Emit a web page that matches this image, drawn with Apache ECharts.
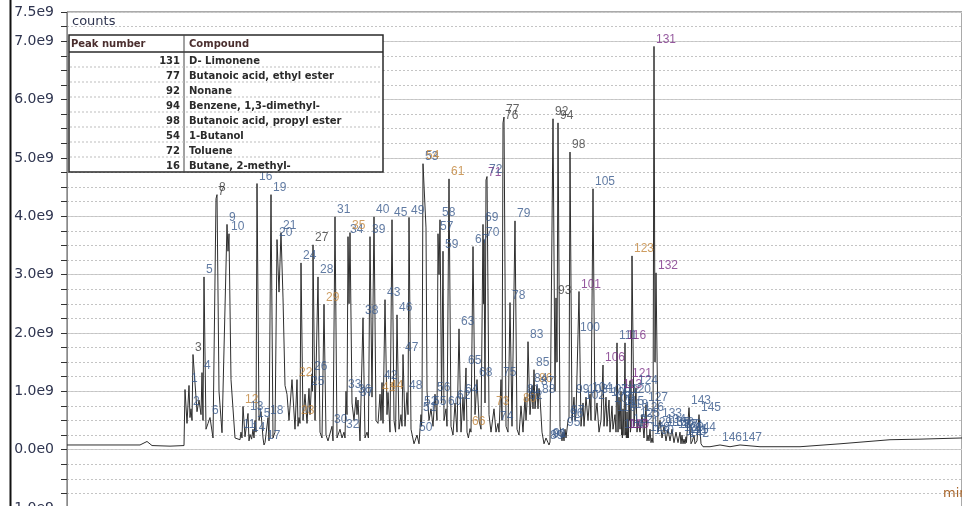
<!DOCTYPE html>
<html>
<head>
<meta charset="utf-8">
<script src="https://cdn.jsdelivr.net/npm/echarts@6/dist/echarts.min.js"></script>
<style>
  html, body { margin: 0; padding: 0; background: #ffffff; }
  #chart { width: 962px; height: 506px; }
</style>
</head>
<body>
<div id="chart"></div>
<script>
// Numbered peaks: peak number, retention time (min), apex height (x 1e9 counts)
const peakNo = [
  1, 2, 3, 4, 5, 6, 7, 8, 9, 10,
  11, 12, 13, 14, 15, 16, 17, 18, 19, 20,
  21, 22, 23, 24, 25, 26, 27, 28, 29, 30,
  31, 32, 33, 34, 35, 36, 37, 38, 39, 40,
  41, 42, 43, 44, 45, 46, 47, 48, 49, 50,
  51, 52, 53, 54, 55, 56, 57, 58, 59, 60,
  61, 62, 63, 64, 65, 66, 67, 68, 69, 70,
  71, 72, 73, 74, 75, 76, 77, 78, 79, 80,
  81, 82, 83, 84, 85, 86, 87, 88, 89, 90,
  91, 92, 93, 94, 95, 96, 97, 98, 99, 100,
  101, 102, 103, 104, 105, 106, 107, 108, 109, 110,
  111, 112, 113, 114, 115, 116, 117, 118, 119, 120,
  121, 122, 123, 124, 125, 126, 127, 128, 129, 130,
  131, 132, 133, 134, 135, 136, 137, 138, 139, 140,
  141, 142, 143, 144, 145, 146, 147
];
const peakTime = [
  9.45, 9.55, 9.65, 10.10, 10.20, 10.50, 10.80, 10.85, 11.35, 11.45,
  12.05, 12.15, 12.40, 12.50, 12.75, 12.85, 13.25, 13.40, 13.55, 13.85,
  14.05, 14.85, 14.95, 15.05, 15.45, 15.60, 15.65, 15.90, 16.20, 16.60,
  16.75, 17.20, 17.30, 17.40, 17.50, 17.80, 17.90, 18.15, 18.50, 18.70,
  19.00, 19.10, 19.25, 19.40, 19.60, 19.85, 20.15, 20.35, 20.45, 20.85,
  21.05, 21.10, 21.15, 21.20, 21.55, 21.75, 21.90, 22.00, 22.15, 22.30,
  22.45, 22.75, 22.95, 23.15, 23.30, 23.50, 23.65, 23.85, 24.15, 24.20,
  24.30, 24.35, 24.70, 24.90, 25.05, 25.15, 25.20, 25.50, 25.75, 26.05,
  26.25, 26.35, 26.40, 26.60, 26.70, 26.85, 26.95, 27.00, 27.40, 27.50,
  27.55, 27.65, 27.80, 27.90, 28.25, 28.40, 28.45, 28.50, 28.70, 28.90,
  28.95, 29.15, 29.30, 29.50, 29.65, 30.15, 30.30, 30.45, 30.60, 30.75,
  30.85, 30.95, 31.05, 31.10, 31.15, 31.25, 31.30, 31.35, 31.40, 31.45,
  31.50, 31.55, 31.60, 31.80, 31.90, 32.10, 32.30, 32.40, 32.50, 32.60,
  32.70, 32.80, 33.00, 33.20, 33.40, 33.60, 33.80, 34.00, 34.10, 34.20,
  34.30, 34.35, 34.45, 34.70, 34.95, 36.00, 37.00
];
const peakHeight = [
  1.10, 0.70, 1.63, 1.32, 2.96, 0.55, 4.30, 4.37, 3.86, 3.70,
  0.30, 0.74, 0.62, 0.26, 0.50, 4.56, 0.12, 0.55, 4.37, 3.60,
  3.72, 1.20, 0.55, 3.20, 1.05, 1.30, 3.51, 2.96, 2.49, 0.40,
  3.99, 0.30, 1.00, 3.65, 3.72, 0.90, 0.85, 2.26, 3.65, 3.99,
  0.95, 1.15, 2.57, 0.98, 3.94, 2.31, 1.63, 0.98, 3.98, 0.25,
  0.60, 0.70, 4.90, 4.92, 0.70, 0.95, 3.70, 3.94, 3.40, 0.70,
  4.64, 0.80, 2.07, 0.90, 1.40, 0.36, 3.48, 1.20, 3.86, 3.60,
  4.62, 4.68, 0.70, 0.45, 1.20, 5.60, 5.70, 2.52, 3.92, 0.75,
  0.90, 0.80, 1.85, 1.10, 1.37, 1.10, 1.05, 0.90, 0.12, 0.13,
  0.15, 5.67, 2.60, 5.60, 0.35, 0.50, 0.55, 5.10, 0.90, 1.97,
  2.71, 0.80, 0.90, 0.95, 4.47, 1.45, 0.90, 0.85, 0.75, 0.60,
  1.83, 0.90, 1.00, 0.30, 0.70, 1.83, 0.30, 0.65, 0.30, 0.90,
  1.18, 0.40, 3.32, 1.06, 0.50, 0.60, 0.77, 0.25, 0.35, 0.20,
  6.91, 3.03, 0.50, 0.40, 0.35, 0.35, 0.30, 0.30, 0.25, 0.18,
  0.22, 0.15, 0.72, 0.25, 0.60, 0.08, 0.08
];

// Unnumbered trace points: baseline, valleys and shoulders (min, x 1e9 counts)
const baseTime = [
  3.35, 5.00, 7.00, 7.35, 7.60, 8.50, 9.20, 9.25, 9.35, 9.50,
  9.60, 9.85, 9.95, 10.05, 10.15, 10.30, 10.40, 10.65, 10.95, 11.10,
  11.40, 11.55, 11.75, 12.00, 12.10, 12.25, 12.45, 12.58, 12.65, 12.70,
  12.80, 12.95, 13.05, 13.15, 13.20, 13.32, 13.45, 13.65, 13.75, 13.95,
  14.15, 14.25, 14.35, 14.45, 14.60, 14.75, 14.90, 15.00, 15.15, 15.25,
  15.35, 15.50, 15.62, 15.75, 16.00, 16.10, 16.30, 16.40, 16.50, 16.65,
  16.85, 17.00, 17.10, 17.25, 17.35, 17.45, 17.60, 17.70, 17.85, 18.00,
  18.25, 18.35, 18.42, 18.60, 18.80, 18.90, 19.05, 19.15, 19.35, 19.50,
  19.70, 19.78, 19.95, 20.05, 20.10, 20.25, 20.40, 20.55, 20.70, 20.95,
  21.08, 21.30, 21.35, 21.45, 21.65, 21.85, 21.95, 22.08, 22.20, 22.35,
  22.55, 22.65, 22.85, 23.05, 23.20, 23.35, 23.42, 23.55, 23.75, 23.95,
  24.05, 24.18, 24.25, 24.45, 24.55, 24.80, 24.95, 25.10, 25.30, 25.40,
  25.60, 25.85, 25.95, 26.15, 26.30, 26.50, 26.65, 26.75, 26.90, 27.10,
  27.20, 27.30, 27.45, 27.60, 27.75, 27.85, 28.00, 28.10, 28.15, 28.20,
  28.30, 28.60, 28.75, 28.80, 29.05, 29.20, 29.40, 29.55, 29.75, 29.85,
  29.95, 30.05, 30.20, 30.35, 30.50, 30.65, 30.80, 30.90, 31.00, 31.08,
  31.12, 31.20, 31.28, 31.32, 31.38, 31.42, 31.48, 31.52, 31.70, 31.85,
  32.00, 32.20, 32.35, 32.45, 32.55, 32.65, 32.75, 32.90, 33.10, 33.30,
  33.50, 33.70, 33.90, 34.05, 34.15, 34.25, 34.32, 34.40, 34.55, 34.62,
  34.75, 34.85, 35.05, 35.15, 35.50, 36.50, 38.00, 40.00, 42.00, 44.50,
  46.00, 48.10
];
const baseHeight = [
  0.08, 0.08, 0.08, 0.14, 0.07, 0.06, 0.07, 1.03, 0.45, 0.55,
  0.50, 0.65, 0.85, 0.60, 0.50, 0.35, 0.45, 0.20, 1.00, 0.29,
  3.40, 1.20, 0.20, 0.17, 0.20, 0.22, 0.15, 0.18, 0.35, 0.20,
  0.30, 0.50, 0.65, 0.20, 0.08, 0.10, 0.15, 0.20, 0.30, 2.70,
  2.60, 1.10, 0.95, 0.50, 1.20, 0.35, 0.40, 0.45, 0.50, 0.95,
  0.45, 0.60, 1.00, 0.50, 0.30, 0.20, 0.25, 0.15, 0.12, 0.15,
  0.20, 0.35, 0.20, 0.20, 0.60, 2.50, 0.80, 0.50, 0.60, 0.15,
  0.20, 0.30, 0.20, 0.90, 0.50, 0.45, 0.50, 0.45, 0.60, 0.30,
  0.50, 0.30, 0.35, 0.60, 0.40, 0.40, 0.60, 0.35, 0.10, 0.10,
  0.40, 3.80, 1.00, 0.50, 0.40, 0.50, 3.00, 0.80, 0.50, 0.40,
  0.40, 0.25, 0.30, 0.30, 0.50, 0.30, 0.20, 0.30, 0.60, 0.50,
  0.35, 2.50, 0.80, 0.60, 0.30, 0.30, 0.30, 0.50, 0.40, 0.30,
  0.40, 0.35, 0.25, 0.30, 0.50, 0.60, 0.70, 0.70, 0.70, 0.30,
  0.10, 0.20, 0.08, 0.10, 1.00, 1.50, 0.40, 0.15, 0.30, 0.15,
  0.20, 0.50, 0.50, 0.60, 0.40, 0.40, 0.50, 0.50, 0.50, 0.80,
  0.30, 0.50, 0.40, 0.40, 0.30, 0.35, 0.30, 0.30, 0.35, 0.25,
  0.20, 0.25, 0.25, 0.20, 0.20, 0.20, 0.50, 0.30, 0.40, 0.30,
  0.30, 0.20, 0.15, 0.15, 0.12, 0.12, 1.50, 0.30, 0.20, 0.15,
  0.15, 0.12, 0.12, 0.10, 0.10, 0.10, 0.12, 0.10, 0.10, 0.15,
  0.10, 0.15, 0.10, 0.05, 0.05, 0.05, 0.05, 0.05, 0.10, 0.17,
  0.18, 0.20
];

// Identified compounds listed in the table
const tablePeakNo = [131, 77, 92, 94, 98, 54, 72, 16];
const tableCompound = [
  'D- Limonene',
  'Butanoic acid, ethyl ester',
  'Nonane',
  'Benzene, 1,3-dimethyl-',
  'Butanoic acid, propyl ester',
  '1-Butanol',
  'Toluene',
  'Butane, 2-methyl-'
];

// Peak label tints
const labelTint = { base: '#3a5a8c', dark: '#3c3c3c', orange: '#c2843a', purple: '#7a2e86' };
const darkLabels = [3, 7, 8, 27, 76, 77, 92, 93, 94, 98];
const orangeLabels = [12, 22, 23, 29, 35, 41, 44, 54, 61, 66, 73, 80, 86, 123];
const purpleLabels = [71, 101, 106, 113, 116, 117, 119, 121, 131, 132];

function tintOf(n) {
  if (darkLabels.includes(n)) return labelTint.dark;
  if (orangeLabels.includes(n)) return labelTint.orange;
  if (purpleLabels.includes(n)) return labelTint.purple;
  return labelTint.base;
}

// Full trace: numbered apexes merged with the unnumbered points, in time order
const trace = peakTime.map((t, i) => [t, peakHeight[i]])
  .concat(baseTime.map((t, i) => [t, baseHeight[i]]))
  .sort((a, b) => a[0] - b[0]);

const peakLabels = peakNo.map((n, i) => ({
  value: [peakTime[i], peakHeight[i], n],
  label: { color: tintOf(n) }
}));

function countLabel(v) {
  if (Math.abs(v) < 1e-9) return '0.0e0';
  return v.toFixed(1) + 'e9';
}

// Compound table drawn as graphic elements
const tbl = { x: 69, y: 35, w: 314, headH: 17, rowH: 15, colX: 184 };
const tblH = tbl.headH + tbl.rowH * tablePeakNo.length;
const tableGraphics = [
  { type: 'rect', shape: { x: tbl.x, y: tbl.y, width: tbl.w, height: tblH },
    style: { fill: '#ffffff', stroke: '#2a2a2a', lineWidth: 1.5 }, z: 10 },
  { type: 'line', shape: { x1: tbl.x, y1: tbl.y + tbl.headH, x2: tbl.x + tbl.w, y2: tbl.y + tbl.headH },
    style: { stroke: '#2a2a2a', lineWidth: 1.5 }, z: 11 },
  { type: 'line', shape: { x1: tbl.colX, y1: tbl.y, x2: tbl.colX, y2: tbl.y + tblH },
    style: { stroke: '#444', lineWidth: 1 }, z: 11 },
  { type: 'text', x: tbl.x + 2, y: tbl.y + tbl.headH / 2 + 1, z: 12,
    style: { text: 'Peak number', fill: '#4a2e2e', font: 'bold 10px "DejaVu Sans"', verticalAlign: 'middle' } },
  { type: 'text', x: tbl.colX + 5, y: tbl.y + tbl.headH / 2 + 1, z: 12,
    style: { text: 'Compound', fill: '#4a2e2e', font: 'bold 10px "DejaVu Sans"', verticalAlign: 'middle' } }
];
tablePeakNo.forEach((n, i) => {
  const top = tbl.y + tbl.headH + i * tbl.rowH;
  if (i > 0) {
    tableGraphics.push({ type: 'line', z: 11,
      shape: { x1: tbl.x + 1, y1: top, x2: tbl.x + tbl.w - 1, y2: top },
      style: { stroke: '#bdbdbd', lineWidth: 1, lineDash: [2, 2] } });
  }
  tableGraphics.push({ type: 'text', x: tbl.colX - 4, y: top + tbl.rowH / 2 + 2, z: 12,
    style: { text: String(n), fill: '#2a2a2a', font: 'bold 10px "DejaVu Sans"', align: 'right', verticalAlign: 'middle' } });
  tableGraphics.push({ type: 'text', x: tbl.colX + 5, y: top + tbl.rowH / 2 + 2, z: 12,
    style: { text: tableCompound[i], fill: '#2a2a2a', font: 'bold 10px "DejaVu Sans"', verticalAlign: 'middle' } });
});

const chart = echarts.init(document.getElementById('chart'), null, { renderer: 'canvas' });
chart.setOption({
  animation: false,
  backgroundColor: '#ffffff',
  grid: {
    left: 67, top: 12, width: 895, height: 496,
    outerBoundsMode: 'none', containLabel: false,
    show: true, borderColor: '#555', borderWidth: 1
  },
  xAxis: {
    type: 'value', min: 3.35, max: 48.1,
    axisLine: { show: false }, axisTick: { show: false }, axisLabel: { show: false }, splitLine: { show: false }
  },
  yAxis: [
    {
      type: 'value', min: -1, max: 7.5, interval: 1, position: 'left',
      axisLine: { show: true, lineStyle: { color: '#8a8a8a', width: 1 } },
      axisTick: { show: false },
      axisLabel: { formatter: countLabel, color: '#2f3550', fontSize: 14, fontFamily: 'DejaVu Sans', margin: 13 },
      splitLine: { show: true, lineStyle: { color: '#cdcdcd', width: 1 } }
    },
    {
      type: 'value', min: -1, max: 7.5, interval: 0.25, position: 'left',
      axisLine: { show: false },
      axisTick: { show: true, length: 6, lineStyle: { color: '#333', width: 1 } },
      axisLabel: { show: false },
      splitLine: { show: true, lineStyle: { color: '#c4c4c4', width: 1, type: [2, 2] } }
    }
  ],
  graphic: [
    { type: 'line', shape: { x1: 10.5, y1: 0, x2: 10.5, y2: 506 }, style: { stroke: '#111', lineWidth: 2 } },
    { type: 'text', x: 72, y: 22, z: 5,
      style: { text: 'counts', fill: '#2f3550', font: '13px "DejaVu Sans"', verticalAlign: 'middle' } },
    { type: 'text', x: 943, y: 494, z: 5,
      style: { text: 'min', fill: '#a8652a', font: '13px "DejaVu Sans"', verticalAlign: 'middle' } }
  ].concat(tableGraphics),
  series: [
    {
      type: 'line', yAxisIndex: 0, data: trace, symbol: 'none', smooth: false,
      lineStyle: { color: '#2e2e2e', width: 1 }, z: 3, silent: true
    },
    {
      type: 'scatter', yAxisIndex: 0, data: peakLabels, symbolSize: 0, z: 4, silent: true,
      label: {
        show: true, position: 'top', align: 'left', verticalAlign: 'bottom', distance: 1, offset: [2, 0],
        formatter: p => String(p.value[2]), fontSize: 12, fontFamily: 'Liberation Sans'
      }
    }
  ]
});
</script>
</body>
</html>
